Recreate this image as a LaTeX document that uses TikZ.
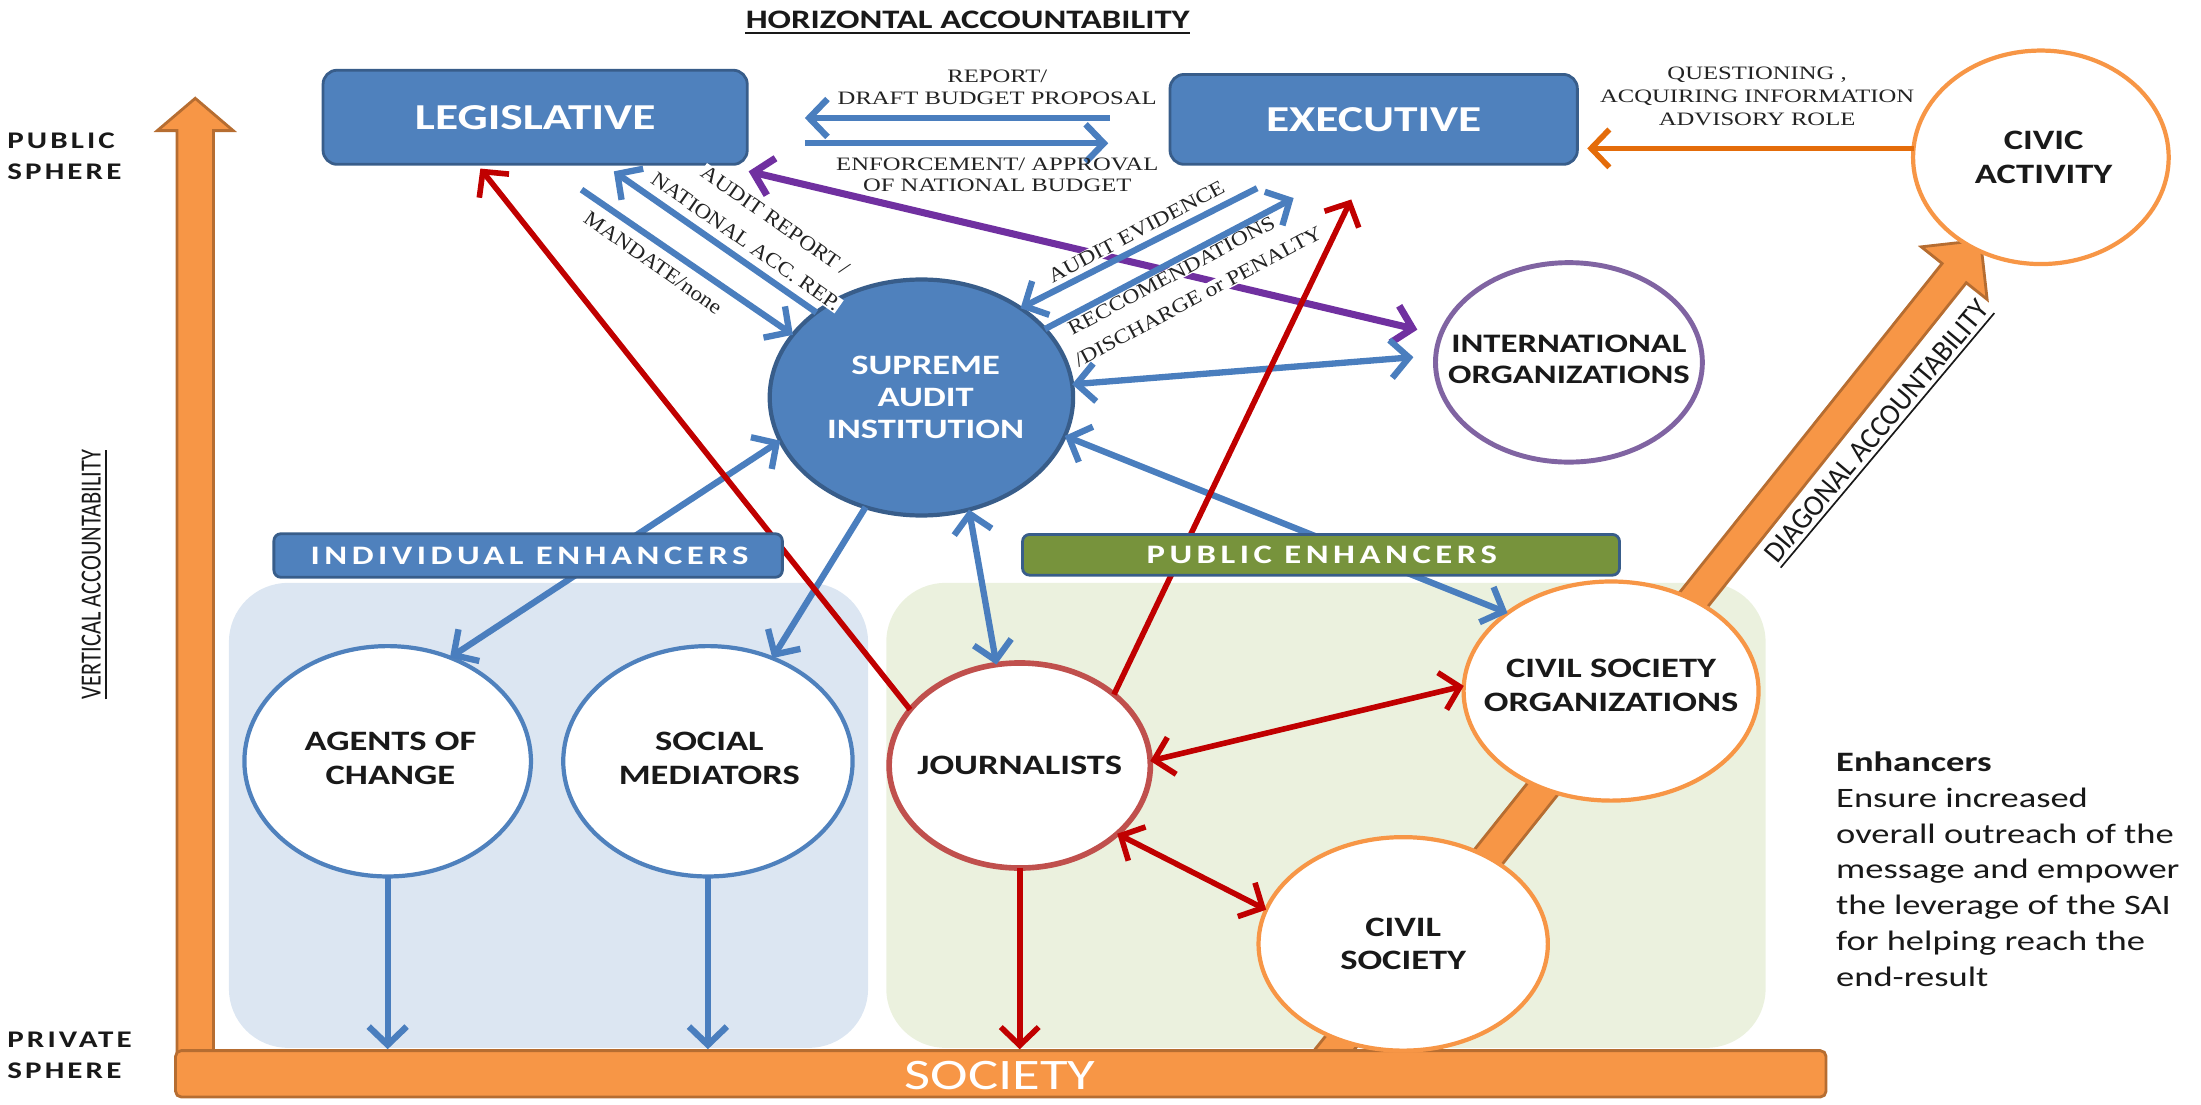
\documentclass[tikz,border=0pt]{standalone}
\usepackage{fontspec}
\setmainfont{Carlito}
\newfontfamily\serifl{Liberation Serif}
\newfontfamily\spaced[LetterSpace=13]{Carlito}
\newfontfamily\spacedb[LetterSpace=10]{Carlito}
\usetikzlibrary{arrows.meta,calc,shapes.geometric}
\definecolor{bF}{RGB}{79,129,189}
\definecolor{bD}{RGB}{56,93,138}
\definecolor{bA}{RGB}{74,126,190}
\definecolor{rA}{RGB}{192,0,0}
\definecolor{rJ}{RGB}{192,80,77}
\definecolor{pA}{RGB}{112,48,160}
\definecolor{pI}{RGB}{128,100,162}
\definecolor{oF}{RGB}{247,150,70}
\definecolor{oD}{RGB}{182,109,49}
\definecolor{oA}{RGB}{228,108,10}
\definecolor{gF}{RGB}{119,147,60}
\definecolor{bgB}{RGB}{220,230,242}
\definecolor{bgG}{RGB}{235,241,222}
\definecolor{tc}{RGB}{25,25,25}
\definecolor{lc}{RGB}{35,35,35}
\tikzset{
  >={Straight Barb[length=13pt,width=27pt]},
  bl/.style={draw=bA, line width=4.5pt, ->},
  bbl/.style={draw=bA, line width=4.5pt, <->},
  rl/.style={draw=rA, line width=4pt, ->},
  rbl/.style={draw=rA, line width=4pt, <->},
  boxn/.style={draw=bD, fill=bF, line width=2pt, rounded corners=10pt, inner sep=0pt},
  banner/.style={line width=2pt, rounded corners=5pt, inner sep=0pt},
  bgr/.style={rounded corners=42pt, inner sep=0pt},
  ell/.style={ellipse, fill=white, line width=3pt, inner sep=0pt, outer sep=0pt},
  tx/.style={xscale=1.3, inner sep=0pt, align=center, text=tc},
  rtx/.style={inner sep=0pt, align=center, text=tc},
  ctext/.style={tx, font=\fontsize{20}{24}\selectfont\bfseries},
  wtext/.style={ctext, text=white},
  lab/.style={tx, font=\serifl\fontsize{13.5}{15.5}\selectfont, text=lc},
  rlabA/.style={rtx, font=\serifl\fontsize{13.5}{15.5}\selectfont, text=lc, fill=white, inner sep=0.6pt, rotate=-35, xscale=1.21, yscale=1.1},
  rlabB/.style={rtx, font=\serifl\fontsize{13.5}{15.5}\selectfont, text=lc, fill=white, inner sep=0.6pt, rotate=28, xscale=1.24, yscale=1.07},
}
\begin{document}
\begin{tikzpicture}[x=1pt,y=-1pt]
\useasboundingbox (0,0) rectangle (1567,786);
% background panels
\node[bgr, fill=bgB, minimum width=455pt, minimum height=331pt] (bgI) at (390.5,580.5) {};
\node[bgr, fill=bgG, minimum width=626pt, minimum height=331pt] (bgP) at (944,580.5) {};
% vertical accountability arrow
\draw[fill=oF, draw=oD, line width=2pt] (126,772) -- (126,93) -- (112,93) -- (139,70) -- (166,93) -- (152,93) -- (152,772) -- cycle;
% diagonal accountability arrow
\coordinate (dS) at (932,770);
\coordinate (dT) at (1410,171);
\coordinate (dB) at ($(dT)!30pt!(dS)$);
\draw[fill=oF, draw=oD, line width=2pt] ($(dS)!11pt!90:(dT)$) -- ($(dB)!11pt!90:(dT)$) -- ($(dB)!30pt!90:(dT)$) -- (dT) -- ($(dB)!30pt!-90:(dT)$) -- ($(dB)!11pt!-90:(dT)$) -- ($(dS)!11pt!-90:(dT)$) -- cycle;
% society bar
\node[draw=oD, fill=oF, line width=2pt, rounded corners=4pt, minimum width=1175pt, minimum height=33pt, inner sep=0pt] (society) at (712.5,764.5) {};
% boxes
\node[boxn, minimum width=302pt, minimum height=67pt] (leg) at (381,83.5) {};
\node[boxn, minimum width=290pt, minimum height=64pt] (exec) at (978,85) {};
% ellipses
\node[ell, draw=bD, fill=bF, minimum width=216pt, minimum height=168pt] (sai) at (656,283) {};
\node[ell, draw=pI, line width=3.5pt, minimum width=190pt, minimum height=142pt] (int) at (1117,258) {};
\node[ell, draw=oF, minimum width=182pt, minimum height=152pt] (civic) at (1453,112) {};
\node[ell, draw=bF, minimum width=204pt, minimum height=164pt] (ag) at (276,542) {};
\node[ell, draw=bF, minimum width=206pt, minimum height=164pt] (soc) at (504,542) {};
\node[ell, draw=rJ, line width=4pt, minimum width=186pt, minimum height=146pt] (j) at (726,545) {};
\node[ell, draw=oF, minimum width=210pt, minimum height=156pt] (cso) at (1147,492) {};
\node[ell, draw=oF, minimum width=206pt, minimum height=152pt] (cs) at (999,672) {};
% purple connector
\draw[draw=pA, line width=5pt, <->, shorten >=17pt] ($(leg.south east)+(0,4)$) -- (int.168);
% rotated labels
\node[rlabA] (l1) at (552,157) {AUDIT REPORT /};
\node[rlabA] (l2) at (531,172) {NATIONAL ACC. REP.};
\node[rlabA] (l3) at (465,187) {MANDATE/none};
\node[rlabB] (l4) at (809,165) {AUDIT EVIDENCE};
\node[rlabB] (l5) at (834,196) {RECCOMENDATIONS};
\node[rlabB] (l6) at (853,211) {/DISCHARGE or PENALTY};
% blue connectors
\draw[bl] ($(exec.west)+(-42,-1)$) -- ($(leg.east)+(40,0.5)$);
\draw[bl] ($(leg.east)+(40,18.5)$) -- ($(exec.west)+(-43,17)$);
\draw[bl] (sai.141) -- ($(leg.south)+(56,4)$);
\draw[bl] ($(leg.south)+(33,17)$) -- (sai.154);
\draw[bl] ($(exec.south)+(-83,16)$) -- (sai.42);
\draw[bl] (sai.29) -- ($(exec.south)+(-57,23)$);
\draw[bbl, shorten >=16pt] (sai.5) -- (int.177);
\draw[bbl] (sai.-67) -- (j.103);
\draw[bbl] (sai.-15) -- (cso.143);
\draw[bbl] (sai.197) -- (ag.59);
\draw[bl] (sai.243) -- (soc.58);
\draw[bl] (ag.south) -- (ag.south |- society.north);
\draw[bl] (soc.south) -- (soc.south |- society.north);
% red connectors
\draw[rl] (j.153) -- ($(leg.south)+(-39,2)$);
\draw[rl] (j.37) -- ($(exec.south)+(-16,24)$);
\draw[rl] (j.south) -- (j.south |- society.north);
\draw[rbl] (j.2) -- (cso.178);
\draw[rbl] (j.-35) -- (cs.166);
% orange connector
\draw[draw=oA, line width=4pt, ->, shorten >=6pt] (civic.176) -- (exec.east |- civic.176);
% banners
\node[banner, draw=bD, fill=bF, minimum width=362pt, minimum height=31pt] (ie) at (376,395.5) {};
\node[banner, draw=bD, fill=gF, minimum width=425pt, minimum height=29pt] (pe) at (940.5,395) {};
\node[tx, text=white, font=\spaced\bfseries\fontsize{19}{20}\selectfont] (ieT) at (377,395.5) {INDIVIDUAL ENHANCERS};
\node[tx, text=white, font=\spaced\bfseries\fontsize{19}{20}\selectfont] (peT) at (941,395) {PUBLIC ENHANCERS};
% node texts
\node[tx, text=white, font=\fontsize{26}{28}\selectfont\bfseries] (legT) at (leg) {LEGISLATIVE};
\node[tx, text=white, font=\fontsize{26}{28}\selectfont\bfseries] (execT) at (exec) {EXECUTIVE};
\node[wtext, font=\fontsize{20}{23}\selectfont\bfseries] (saiT) at (659,283) {SUPREME\\AUDIT\\INSTITUTION};
\node[ctext, font=\fontsize{19}{22}\selectfont\bfseries] (intT) at (1117,256) {INTERNATIONAL\\ORGANIZATIONS};
\node[ctext] (civicT) at (1455,112) {CIVIC\\ACTIVITY};
\node[ctext] (agT) at (278,540) {AGENTS OF\\CHANGE};
\node[ctext] (socT) at (505,540) {SOCIAL\\MEDIATORS};
\node[ctext] (jT) at (726,545) {JOURNALISTS};
\node[ctext] (csoT) at (1147,488) {CIVIL SOCIETY\\ORGANIZATIONS};
\node[ctext] (csT) at (999,672) {CIVIL\\SOCIETY};
\node[tx, text=white, font=\fontsize{31}{32}\selectfont] (socTxt) at (712,766) {SOCIETY};
% top labels
\node[lab] (lrep) at (710,62) {REPORT/\\DRAFT BUDGET PROPOSAL};
\node[lab] (lenf) at (710,124.5) {ENFORCEMENT/ APPROVAL\\OF NATIONAL BUDGET};
\node[lab, font=\serifl\fontsize{13.5}{16.5}\selectfont] (lq) at (1251,68.5) {QUESTIONING ,\\ACQUIRING INFORMATION\\ADVISORY ROLE};
% axis titles
\node[tx, font=\fontsize{19}{20}\selectfont\bfseries, inner ysep=3pt] (hz) at (689,14) {HORIZONTAL ACCOUNTABILITY};
\draw[line width=1.5pt, tc] (hz.south west) -- (hz.south east);
\node[rtx, rotate=90, yscale=1.3, font=\fontsize{16}{18}\selectfont, inner ysep=2.5pt] (vert) at (65,409) {VERTICAL ACCOUNTABILITY};
\draw[line width=1.2pt, tc] (vert.south west) -- (vert.south east);
\node[rtx, rotate=50, xscale=1.13, yscale=1.18, font=\fontsize{18}{20}\selectfont, inner ysep=2.5pt] (diag) at (1336,307) {DIAGONAL ACCOUNTABILITY};
\draw[line width=1.2pt, tc] (diag.south west) -- (diag.south east);
\node[tx, anchor=west, align=left, font=\spacedb\bfseries\fontsize{17}{22}\selectfont] (pub) at (5,111) {PUBLIC\\SPHERE};
\node[tx, anchor=west, align=left, font=\spacedb\bfseries\fontsize{17}{22}\selectfont] (priv) at (5,751.5) {PRIVATE\\SPHERE};
% side note
\node[tx, anchor=north west, align=left, font=\fontsize{20}{25.5}\selectfont] (enh) at (1307,535) {\textbf{Enhancers}\\Ensure increased\\overall outreach of the\\message and empower\\the leverage of the SAI\\for helping reach the\\end-result};
\end{tikzpicture}
\end{document}
